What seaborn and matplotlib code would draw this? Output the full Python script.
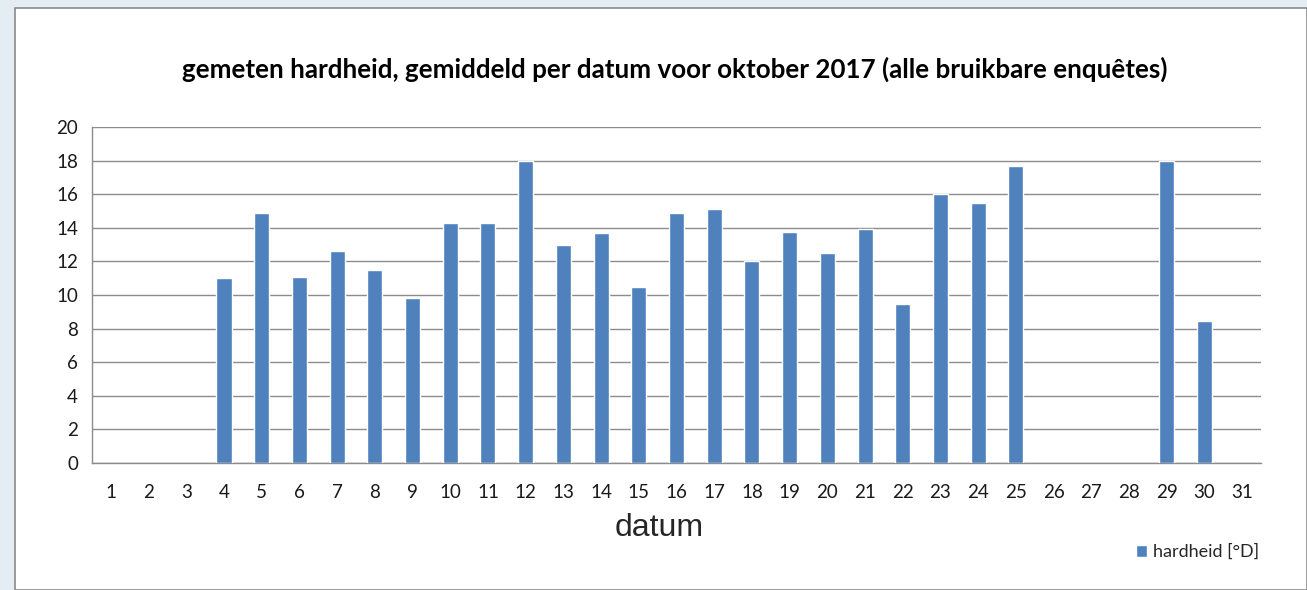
import matplotlib
matplotlib.use('Agg')
import matplotlib.pyplot as plt
from matplotlib.patches import Rectangle
import numpy as np
import pandas as pd
import seaborn as sns

days = [str(d) for d in range(1, 32)]
hardheid = [np.nan, np.nan, np.nan, 11.0, 14.9, 11.1, 12.6, 11.5, 9.8, 14.3,
            14.3, 18.0, 13.0, 13.7, 10.5, 14.9, 15.1, 12.0, 13.75, 12.5,
            13.9, 9.45, 16.0, 15.5, 17.7, np.nan, np.nan, np.nan, 18.0, 8.45,
            np.nan]
title = 'gemeten hardheid, gemiddeld per datum voor oktober 2017 (alle bruikbare enquêtes)'
series_name = 'hardheid [°D]'

sns.set_style('white')
plt.rcParams['font.family'] = ['Lato', 'DejaVu Sans']

df = pd.DataFrame({'datum': days, 'hardheid': hardheid})

fig = plt.figure(figsize=(13.07, 5.9), dpi=100)
fig.patch.set_facecolor('#e4edf3')
# white chart box with grey border
fig.patches.append(Rectangle((15 / 1307, 0), 1 - 15 / 1307, 1 - 8 / 590,
                             transform=fig.transFigure, facecolor='white',
                             edgecolor='#8a8a8a', linewidth=1.2, zorder=-10))

ax = fig.add_axes([92 / 1307, 1 - 463 / 590, (1261 - 92) / 1307, (463 - 127) / 590])
ax.set_facecolor('none')
sns.barplot(data=df, x='datum', y='hardheid', order=days, color='#4f81bd',
            width=0.40, saturation=1, ax=ax, label=series_name, zorder=3)

ax.set_xlim(-0.5, 30.5)
ax.set_ylim(0, 20)
ax.set_yticks(range(0, 21, 2))
ax.yaxis.grid(True, color='#8c8c8c', linewidth=1)
ax.set_axisbelow(True)
for s in ['top', 'right']:
  ax.spines[s].set_visible(False)
for s in ['left', 'bottom']:
  ax.spines[s].set_color('#8c8c8c')
  ax.spines[s].set_linewidth(1)

ax.set_xticks(np.arange(-0.5, 31, 1), minor=True)
ax.tick_params(axis='x', which='major', length=0, pad=15, labelsize=13.5, colors='#1a1a1a')
ax.tick_params(axis='x', which='minor', length=5, width=1, color='#8c8c8c')
ax.tick_params(axis='y', which='major', length=5, width=1, color='#8c8c8c',
               pad=5, labelsize=13.5, labelcolor='#1a1a1a')

ax.set_ylabel('')
ax.set_xlabel('datum', fontsize=23, family=['Liberation Sans'], labelpad=6)
ax.xaxis.set_label_coords(0.4855, -0.15)
fig.text(0.516, 0.882, title, ha='center', va='center', fontsize=18.7,
         fontweight='bold', color='black')

leg = ax.legend(loc='center right', bbox_to_anchor=((1259 - 92) / 1169, -0.265),
                frameon=False, fontsize=13, handlelength=0.65, handleheight=0.65,
                handletextpad=0.3, borderpad=0, borderaxespad=0)

fig.savefig('out.png', dpi=100, facecolor=fig.get_facecolor())
